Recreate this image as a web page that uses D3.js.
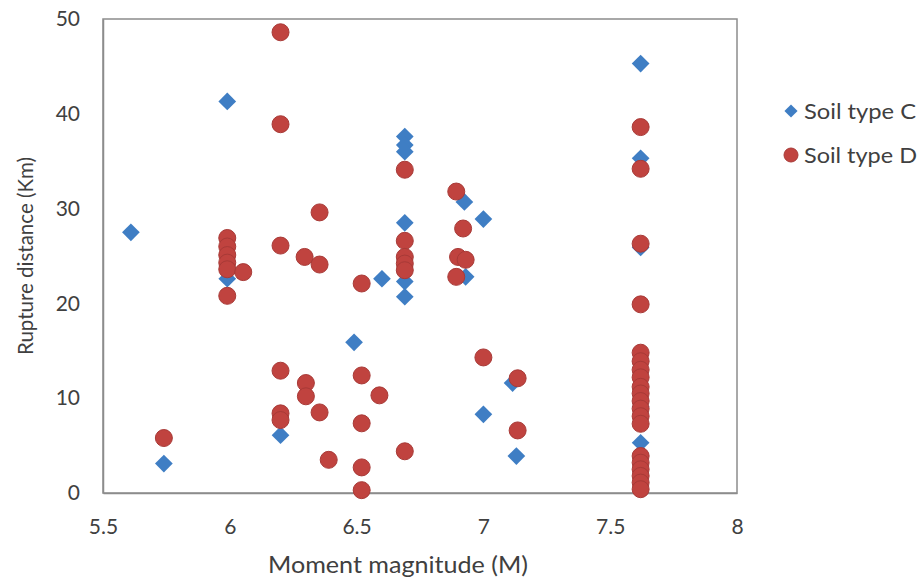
<!DOCTYPE html>
<html><head><meta charset="utf-8">
<script src="https://cdn.jsdelivr.net/npm/d3@7"></script>
<style>body{margin:0;background:#fff;}svg{display:block;}text{font-family:Lato,"Open Sans",sans-serif;fill:#404040;}</style>
</head><body>
<script>
const seriesNames = ["Soil type C", "Soil type D"];
const xTicks = [5.5, 6, 6.5, 7, 7.5, 8];
const yTicks = [0, 10, 20, 30, 40, 50];
const soilC_M = [5.61, 5.74, 5.99, 5.99, 6.2, 6.49, 6.6, 6.69, 6.69, 6.69, 6.69, 6.69, 6.69, 6.925, 6.93, 7.0, 7.0, 7.115, 7.13, 7.62, 7.62, 7.62, 7.62, 7.62];
const soilC_R = [27.5, 3.1, 41.3, 22.6, 6.1, 15.9, 22.6, 37.6, 36.7, 36.0, 28.5, 22.3, 20.7, 30.7, 22.8, 28.9, 8.3, 11.6, 3.9, 45.3, 35.3, 25.9, 9.1, 5.3];
const soilD_M = [5.74, 5.99, 5.99, 5.99, 5.99, 5.99, 5.99, 6.053, 6.2, 6.2, 6.2, 6.2, 6.2, 6.2, 6.295, 6.3, 6.3, 6.354, 6.354, 6.354, 6.39, 6.52, 6.52, 6.52, 6.52, 6.52, 6.59, 6.69, 6.69, 6.69, 6.69, 6.69, 6.69, 6.893, 6.92, 6.9, 6.93, 6.893, 7.0, 7.135, 7.135, 7.62, 7.62, 7.62, 7.62, 7.62, 7.62, 7.62, 7.62, 7.62, 7.62, 7.62, 7.62, 7.62, 7.62, 7.62, 7.62, 7.62, 7.62, 7.62, 7.62];
const soilD_R = [5.8, 26.9, 26.0, 25.1, 24.3, 23.6, 20.8, 23.3, 48.6, 38.9, 26.1, 12.9, 8.4, 7.7, 24.9, 11.6, 10.2, 29.6, 24.1, 8.5, 3.5, 22.1, 12.4, 7.35, 2.7, 0.3, 10.3, 34.1, 26.6, 24.9, 24.2, 23.5, 4.4, 31.8, 27.9, 24.9, 24.6, 22.8, 14.3, 12.1, 6.6, 38.6, 34.2, 26.3, 19.9, 14.8, 13.9, 13.0, 12.2, 11.2, 10.5, 9.7, 8.9, 8.1, 7.3, 3.9, 3.2, 2.5, 1.8, 1.1, 0.4];

const W = 922, H = 580;
const m = {left: 103, right: 185, top: 19, bottom: 87};
const svg = d3.select("body").append("svg").attr("width", W).attr("height", H);
const x = d3.scaleLinear().domain([5.5, 8]).range([m.left, W - m.right]);
const y = d3.scaleLinear().domain([0, 50]).range([H - m.bottom, m.top]);

svg.append("rect").attr("x", x(5.5)).attr("y", y(50)).attr("width", x(8) - x(5.5)).attr("height", y(0) - y(50))
  .attr("fill", "#fff").attr("stroke", "#8c8c8c").attr("stroke-width", 1.5);

const xAxis = svg.append("g").attr("transform", `translate(0,${y(0)})`)
  .call(d3.axisBottom(x).tickValues(xTicks).tickSize(0).tickPadding(26).tickFormat(d3.format("")));
const yAxis = svg.append("g").attr("transform", `translate(${x(5.5)},0)`)
  .call(d3.axisLeft(y).tickValues(yTicks).tickSize(0).tickPadding(23));
[xAxis, yAxis].forEach(g => {
  g.select(".domain").attr("stroke", "#8c8c8c").attr("stroke-width", 1.5);
  g.selectAll("text").attr("font-size", 21).attr("font-family", "Lato").attr("fill", "#404040");
});

svg.append("text").attr("x", 398).attr("y", 573).attr("text-anchor", "middle")
  .attr("font-size", 23).attr("textLength", 260).attr("lengthAdjust", "spacingAndGlyphs").text("Moment magnitude (M)");
svg.append("text").attr("transform", `translate(33,${(y(0) + y(50)) / 2}) rotate(-90)`).attr("text-anchor", "middle")
  .attr("font-size", 22).attr("textLength", 198).attr("lengthAdjust", "spacingAndGlyphs").text("Rupture distance (Km)");

const blue = "#3f7ec4", red = "#c0433f";
const diamond = d3.symbol().type(d3.symbolDiamond2).size(200);
const cData = soilC_M.map((v, i) => ({m: v, r: soilC_R[i]}));
const dData = soilD_M.map((v, i) => ({m: v, r: soilD_R[i]}));

svg.append("g").selectAll("path").data(cData).join("path")
  .attr("d", diamond).attr("transform", d => `translate(${x(d.m)},${y(d.r)})`)
  .attr("fill", blue);
svg.append("g").selectAll("circle").data(dData).join("circle")
  .attr("cx", d => x(d.m)).attr("cy", d => y(d.r)).attr("r", 8.5)
  .attr("fill", red).attr("stroke", "#a83a37").attr("stroke-width", 1);

const lg = svg.append("g");
lg.append("path").attr("d", d3.symbol().type(d3.symbolDiamond2).size(110)).attr("transform", "translate(791,111)").attr("fill", blue);
lg.append("text").attr("x", 804).attr("y", 119).attr("font-size", 21).attr("textLength", 112).attr("lengthAdjust", "spacingAndGlyphs").text(seriesNames[0]);
lg.append("circle").attr("cx", 791).attr("cy", 155).attr("r", 7).attr("fill", red).attr("stroke", "#a83a37");
lg.append("text").attr("x", 804).attr("y", 163).attr("font-size", 21).attr("textLength", 113).attr("lengthAdjust", "spacingAndGlyphs").text(seriesNames[1]);
</script>
</body></html>
